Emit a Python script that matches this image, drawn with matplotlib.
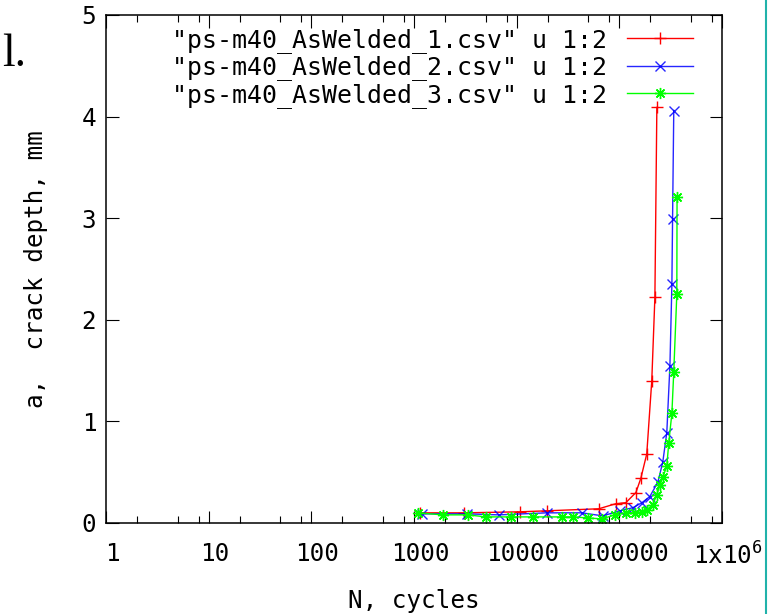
"""
Crack depth vs. cycles (gnuplot-style recreation)
"""

import matplotlib

matplotlib.use("Agg")
import matplotlib.pyplot as plt
import matplotlib.ticker as mticker
import matplotlib.transforms as mtransforms
from matplotlib.lines import Line2D

# Data
n1 = [1140, 3100, 10700, 19700, 63100, 92500, 115700, 145000, 162000,
      185000, 207000, 222000, 232000]
a1 = [0.10, 0.10, 0.11, 0.12, 0.14, 0.19, 0.20, 0.30, 0.44,
      0.68, 1.40, 2.22, 4.09]

n2 = [1190, 3270, 6710, 19700, 43100, 69000, 101000, 135000, 166000,
      198000, 237000, 265000, 290000, 311000, 325000, 330000, 339000]
a2 = [0.09, 0.09, 0.08, 0.10, 0.10, 0.07, 0.12, 0.15, 0.20,
      0.26, 0.40, 0.60, 0.89, 1.55, 2.35, 2.99, 4.06]

n3 = [1090, 1910, 3350, 5010, 8790, 14400, 27600, 35300, 49300, 67600,
      90400, 115700, 141000, 166000, 185000, 212000, 232000, 248000,
      265000, 290000, 303000, 325000, 339000, 363000, 365000]
a3 = [0.10, 0.08, 0.08, 0.06, 0.06, 0.06, 0.06, 0.06, 0.05, 0.04,
      0.08, 0.10, 0.10, 0.11, 0.13, 0.18, 0.28, 0.37,
      0.45, 0.56, 0.79, 1.08, 1.49, 2.25, 3.21]

x_ticks = [1, 10, 100, 1000, 10000, 100000, 1e6]
x_ticklabels = ["1", "10", "100", "1000", "10000", "100000", "1x10$^{6}$"]

labels = [
    '"ps-m40_AsWelded_1.csv" u 1:2',
    '"ps-m40_AsWelded_2.csv" u 1:2',
    '"ps-m40_AsWelded_3.csv" u 1:2',
]

plt.rcParams["font.family"] = ["DejaVu Sans Mono", "DejaVu Sans"]
plt.rcParams["mathtext.fontset"] = "custom"
plt.rcParams["mathtext.rm"] = "DejaVu Sans Mono"
plt.rcParams["mathtext.default"] = "rm"
FS = 17.5

fig = plt.figure(figsize=(7.7, 6.14), dpi=100)
ax = fig.add_axes([106 / 770, 91 / 614, 616 / 770, 508 / 614])

ax.plot(n1, a1, color="#ff0000", lw=1.0, marker="+", ms=9, mew=1.0,
        label=labels[0])
ax.plot(n2, a2, color="#0000ff", lw=1.0, marker="x", ms=7, mew=1.0,
        alpha=0.85, label=labels[1])
ax.plot(n3, a3, color="#00ff00", lw=1.0, marker=(8, 2, 0), ms=8, mew=1.0,
        label=labels[2])

ax.set_xscale("log")
ax.set_xlim(1, 1e6)
ax.set_ylim(0, 5)

ax.xaxis.set_minor_locator(mticker.LogLocator(base=10, subs=(2, 5, 8), numticks=10))
ax.xaxis.set_minor_formatter(mticker.NullFormatter())
ax.set_xticks(x_ticks)
ax.set_xticklabels(x_ticklabels)
ax.set_yticks([0, 1, 2, 3, 4, 5])

ax.tick_params(which="both", direction="in", top=True, right=True,
               labelsize=FS, width=0.8)
ax.tick_params(which="major", length=9)
ax.tick_params(which="minor", length=5)
ax.tick_params(axis="x", which="major", pad=14)
ax.tick_params(axis="y", which="major", pad=7)
for s in ax.spines.values():
    s.set_linewidth(1.1)

# gnuplot puts the x labels a little right of the ticks
shift = mtransforms.ScaledTranslation(6 / 100, 0, fig.dpi_scale_trans)
for lab in ax.get_xticklabels():
    lab.set_transform(lab.get_transform() + shift)

ax.set_xlabel("N, cycles", fontsize=FS, labelpad=14)
ax.set_ylabel("a,  crack depth, mm", fontsize=FS, labelpad=24)

ax.legend(loc="upper right", frameon=False, markerfirst=False, numpoints=1,
          fontsize=17.9, handlelength=2.67, handletextpad=0.8,
          labelspacing=0.1, borderpad=0, borderaxespad=0,
          bbox_to_anchor=((693 - 106) / 616, 1 - 13 / 508))

# page fragments around the figure
fig.text(26 / 770, 1 - 66 / 614, "l.", family="Liberation Serif",
         fontsize=33, ha="right", va="baseline")
fig.add_artist(Line2D([766 / 770, 766 / 770], [0, 1], color="#20b2aa", lw=1.5))

fig.savefig("out.png", dpi=100)
plt.close(fig)
